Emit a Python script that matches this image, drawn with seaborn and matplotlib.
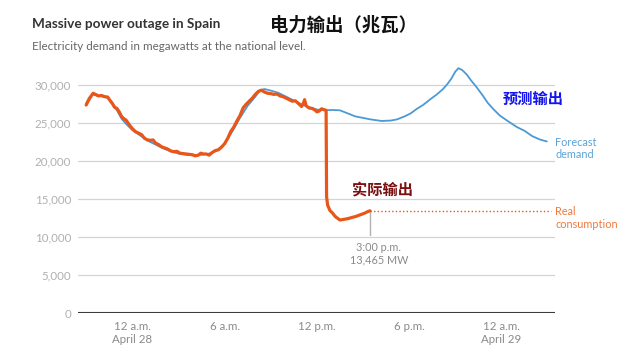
import matplotlib
matplotlib.use("Agg")
import matplotlib.pyplot as plt
import seaborn as sns
import pandas as pd

# ---- data (hours from 12 a.m. April 28, MW) ----
actual_hours = [-3.0, -2.85, -2.7, -2.55, -2.4, -2.2, -2.0, -1.8, -1.6, -1.45, -1.3, -1.15, -1.0,
                -0.85, -0.7, -0.55, -0.4, -0.2, 0.0, 0.2, 0.4, 0.6, 0.8, 1.0, 1.2, 1.35, 1.5, 1.7,
                1.9, 2.1, 2.3, 2.5, 2.7, 2.9, 3.1, 3.3, 3.5, 3.7, 3.9, 4.1, 4.3, 4.45, 4.6, 4.8,
                5.0, 5.2, 5.4, 5.6, 5.8, 6.0, 6.2, 6.4, 6.6, 6.8, 7.0, 7.2, 7.4, 7.6, 7.8, 8.0,
                8.2, 8.4, 8.6, 8.8, 9.0, 9.2, 9.4, 9.6, 9.8, 10.0, 10.2, 10.4, 10.6, 10.8, 11.0,
                11.1, 11.2, 11.3, 11.5, 11.7, 11.9, 12.0, 12.15, 12.3, 12.45, 12.6, 12.63, 12.7,
                12.85, 13.0, 13.2, 13.5, 13.8, 14.05, 14.3, 14.5, 14.7, 14.9, 15.1, 15.3, 15.45]
actual_mw = [27400, 28000, 28500, 28950, 28800, 28600, 28650, 28500, 28450, 28000, 27600, 27100, 26950,
             26500, 25900, 25600, 25400, 24800, 24300, 23900, 23700, 23500, 23000, 22800, 22750, 22800,
             22400, 22200, 21900, 21750, 21600, 21350, 21250, 21300, 21050, 21000, 20950, 20900, 20850,
             20700, 20800, 21050, 20950, 20950, 20800, 21150, 21400, 21500, 21850, 22300, 23000, 23900,
             24500, 25300, 26000, 27000, 27500, 27900, 28300, 28800, 29200, 29350, 29100, 28950, 28900,
             28800, 28850, 28600, 28500, 28300, 28100, 27900, 27950, 27600, 27200, 27500, 28100, 27300,
             27000, 26950, 26700, 26500, 26600, 26900, 26800, 26700, 15300, 14200, 13500, 13200, 12700,
             12250, 12350, 12450, 12600, 12700, 12850, 13000, 13150, 13350, 13465]

forecast_hours = [-3.0, -2.8, -2.6, -2.4, -2.0, -1.6, -1.3, -1.0, -0.7, -0.4, 0.0, 0.5, 1.0, 1.5,
                  2.0, 2.5, 3.0, 3.5, 4.0, 4.5, 5.0, 5.5, 6.0, 6.5, 7.0, 7.5, 8.0, 8.3, 8.6, 9.0,
                  9.5, 10.0, 10.5, 11.0, 11.5, 12.0, 12.5, 13.0, 13.5, 14.0, 14.5, 15.0, 15.5,
                  16.2, 16.8, 17.2, 17.7, 18.1, 18.5, 18.9, 19.4, 19.8, 20.2, 20.5, 20.75, 21.0,
                  21.2, 21.45, 21.75, 22.0, 22.4, 22.8, 23.1, 23.5, 23.9, 24.4, 25.0, 25.5, 26.0,
                  26.5, 26.95]
forecast_mw = [27600, 28400, 28800, 28700, 28550, 28350, 27700, 26700, 25600, 24900, 24100, 23400,
               22700, 22200, 21700, 21300, 21000, 20850, 20800, 20850, 21000, 21400, 22300, 23900,
               25700, 27300, 28500, 29350, 29500, 29300, 29000, 28500, 28000, 27500, 27100, 26800,
               26700, 26750, 26700, 26300, 25900, 25700, 25500, 25300, 25350, 25500, 25900, 26300,
               26900, 27400, 28200, 28800, 29500, 30200, 30900, 31800, 32250, 32000, 31400, 30700,
               29700, 28600, 27700, 26800, 26000, 25300, 24500, 24000, 23300, 22850, 22600]

y_ticks = [0, 5000, 10000, 15000, 20000, 25000, 30000]
x_ticks = [0, 6, 12, 18, 24]
x_tick_labels = ["12 a.m.\nApril 28", "6 a.m.", "12 p.m.", "6 p.m.", "12 a.m.\nApril 29"]

ORANGE = "#EA5518"
BLUE = "#4C9AD4"

sns.set_style("white")
plt.rcParams["font.family"] = ["Lato", "Noto Sans CJK SC", "DejaVu Sans"]

fig = plt.figure(figsize=(6.4, 3.57), dpi=100)
W, H = 640, 357
ax = fig.add_axes([78 / W, 1 - 313 / H, (555 - 78) / W, (313 - 62.5) / H])

df_f = pd.DataFrame({"hour": forecast_hours, "mw": forecast_mw})
df_a = pd.DataFrame({"hour": actual_hours, "mw": actual_mw})

for yt in y_ticks[1:]:
    ax.axhline(yt, color="#d4d4d4", lw=0.9, zorder=0)
ax.axhline(0, color="#3a3a3a", lw=1.5, zorder=1)

sns.lineplot(data=df_f, x="hour", y="mw", ax=ax, color=BLUE, lw=1.3, sort=False, zorder=3)
sns.lineplot(data=df_a, x="hour", y="mw", ax=ax, color=ORANGE, lw=2.3, sort=False, zorder=4)

last_h, last_v = actual_hours[-1], actual_mw[-1]
ax.plot([last_h, 27.2], [last_v, last_v], color=ORANGE, lw=1.0, dashes=(1, 1.6), zorder=2)
ax.plot([last_h, last_h], [last_v, 10300], color="#b0b0b0", lw=1.0, zorder=2)

ax.set_xlim(-3.53, 27.48)
ax.set_ylim(0, 33000)
ax.set_yticks(y_ticks)
ax.set_yticklabels([f"{v:,}" for v in y_ticks])
ax.set_xticks(x_ticks)
ax.set_xticklabels(x_tick_labels)
ax.tick_params(axis="y", length=0, pad=5, labelsize=8.3, labelcolor="#b0b0b0")
ax.tick_params(axis="x", length=0, pad=6, labelsize=8.3, labelcolor="#8a8a8a")
ax.set_xlabel("")
ax.set_ylabel("")
for s in ax.spines.values():
    s.set_visible(False)

def ftxt(x, y, s, **kw):
    fig.text(x / W, 1 - y / H, s, **kw)

ftxt(32, 24, "Massive power outage in Spain", fontsize=9.8, fontweight="bold",
     color="#333333", va="center", ha="left")
ftxt(270, 25, "电力输出（兆瓦）", fontsize=13.2, fontweight="bold", color="#111111",
     va="center", ha="left", family=["Noto Sans CJK SC", "DejaVu Sans"])
ftxt(32, 46, "Electricity demand in megawatts at the national level.", fontsize=8.4,
     color="#666666", va="center", ha="left")
ftxt(503, 99, "预测输出", fontsize=11, fontweight="bold", color="#1414F0",
     va="center", ha="left", family=["Noto Sans CJK SC", "DejaVu Sans"])
ftxt(352, 190, "实际输出", fontsize=11, fontweight="bold", color="#7A1010",
     va="center", ha="left", family=["Noto Sans CJK SC", "DejaVu Sans"])
ftxt(555, 148.5, "Forecast\ndemand", fontsize=7.8, color="#5BA3D8", va="center", ha="left",
     linespacing=1.15)
ftxt(555, 218, "Real\nconsumption", fontsize=7.8, color="#EE7A40", va="center", ha="left",
     linespacing=1.15)
ftxt(379, 253.5, "3:00 p.m.\n13,465 MW", fontsize=7.8, color="#8a8a8a", va="center",
     ha="center", linespacing=1.2)

fig.savefig("out.png", dpi=100)
